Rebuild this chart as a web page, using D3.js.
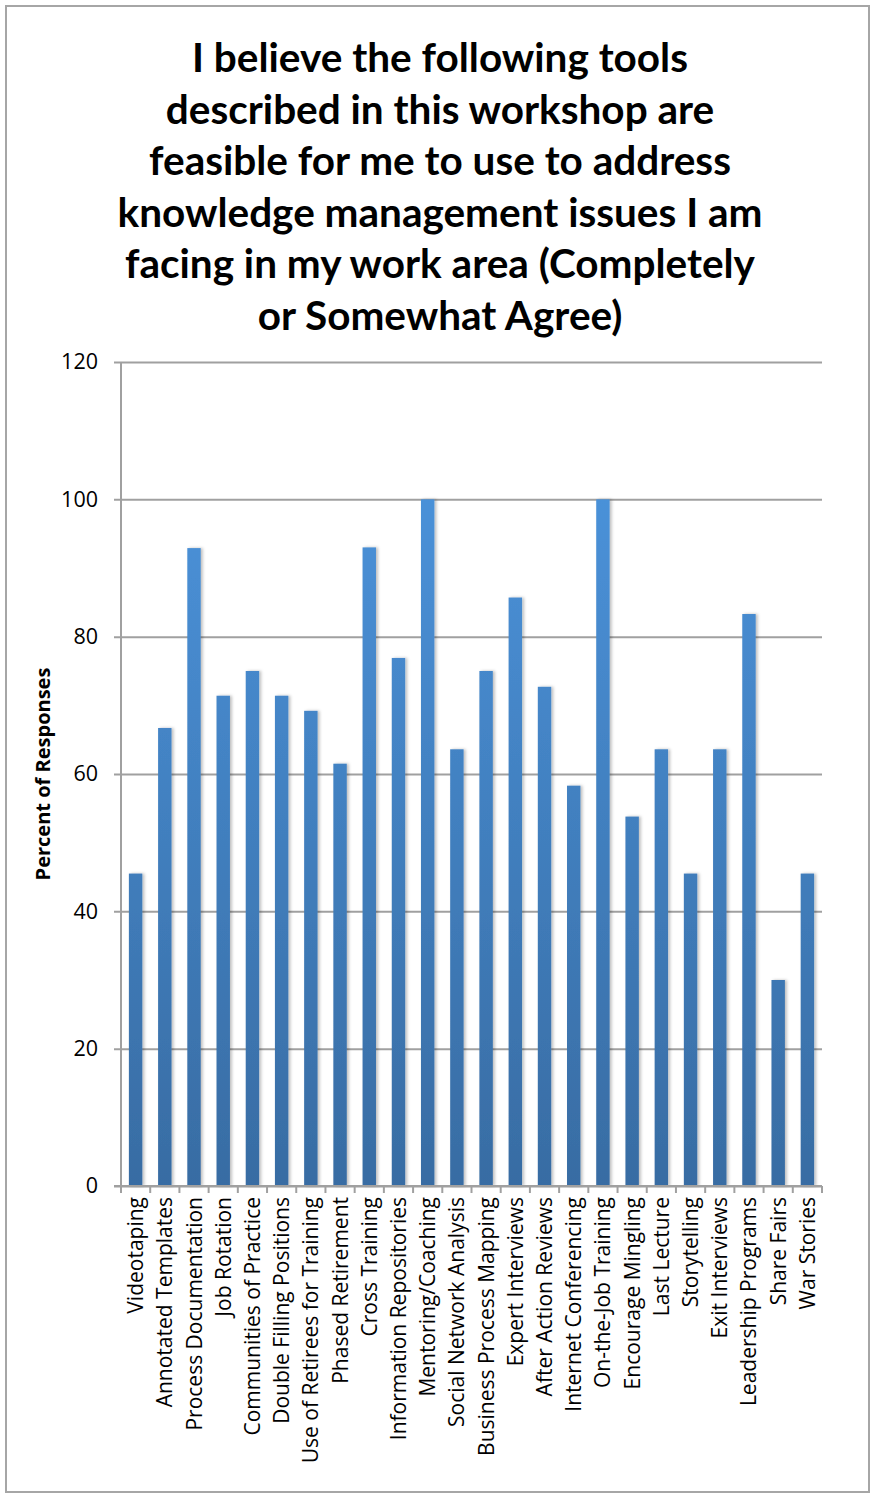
<!DOCTYPE html>
<html><head><meta charset="utf-8">
<script src="https://cdn.jsdelivr.net/npm/d3@7"></script>
<style>body{margin:0;background:#fff}svg{display:block}</style>
</head><body>
<svg id="c" width="872" height="1494"></svg>
<script>
const categories = ["Videotaping","Annotated Templates","Process Documentation","Job Rotation","Communities of Practice","Double Filling Positions","Use of Retirees for Training","Phased Retirement","Cross Training","Information Repositories","Mentoring/Coaching","Social Network Analysis","Business Process Mapping","Expert Interviews","After Action Reviews","Internet Conferencing","On-the-Job Training","Encourage Mingling","Last Lecture","Storytelling","Exit Interviews","Leadership Programs","Share Fairs","War Stories"];
const values = [45.5,66.7,92.9,71.4,75,71.4,69.2,61.5,93,76.9,100,63.6,75,85.7,72.7,58.3,100,53.8,63.6,45.5,63.6,83.3,30,45.5];
const yTicks = [0,20,40,60,80,100,120];
const titleLines = ["I believe the following tools","described in this workshop are","feasible for me to use to address","knowledge management issues I am","facing in my work area (Completely","or Somewhat Agree)"];
const yTitle = "Percent of Responses";

const svg = d3.select("#c");
const L = 121, R = 822, T = 362, B = 1186;
const x = d3.scaleBand().domain(categories).range([L, R]).paddingInner(0.54).paddingOuter(0.27);
const y = d3.scaleLinear().domain([0,120]).range([B, T]);

svg.append("rect").attr("x",6).attr("y",6).attr("width",863).attr("height",1486)
  .attr("fill","#fff").attr("stroke","#a6a6a6").attr("stroke-width",2);

const defs = svg.append("defs");
const g = defs.append("linearGradient").attr("id","bg").attr("gradientUnits","userSpaceOnUse")
  .attr("x1",0).attr("x2",0).attr("y1",y(100)).attr("y2",B);
g.append("stop").attr("offset",0).attr("stop-color","#4a91d8");
g.append("stop").attr("offset",1).attr("stop-color","#386ca3");
const f = defs.append("filter").attr("id","sh").attr("x","-50%").attr("y","-5%").attr("width","200%").attr("height","110%");
f.append("feDropShadow").attr("dx",2).attr("dy",0).attr("stdDeviation",1.5).attr("flood-color","#000").attr("flood-opacity",0.25);

// title
svg.append("text").attr("text-anchor","middle").attr("font-family","Lato, 'Open Sans', sans-serif")
  .attr("font-weight","bold").attr("font-size",40.5).attr("fill","#000")
  .selectAll("tspan").data(titleLines).join("tspan")
  .attr("x",440).attr("y",(d,i)=>72 + i*51.5).text(d=>d);

// grid
const yAxis = d3.axisLeft(y).tickValues(yTicks).tickSize(-(R-L)).tickPadding(23);
const ga = svg.append("g").attr("transform",`translate(${L},0)`).call(yAxis);
ga.select(".domain").remove();
ga.selectAll(".tick line").attr("stroke","#a0a0a0").attr("stroke-width",2).attr("x1",-7).attr("x2",R-L);
ga.selectAll(".tick text").attr("font-family","'Open Sans', sans-serif").attr("font-size",21.5).attr("fill","#000");

// bars
svg.append("g").selectAll("rect").data(values).join("rect")
  .attr("x",(d,i)=>x(categories[i])).attr("width",x.bandwidth())
  .attr("y",d=>y(d)).attr("height",d=>B-y(d))
  .attr("fill","url(#bg)").attr("filter","url(#sh)");

// axes lines
svg.append("line").attr("x1",L).attr("x2",L).attr("y1",T).attr("y2",B).attr("stroke","#a0a0a0").attr("stroke-width",2);
svg.append("line").attr("x1",L-7).attr("x2",R).attr("y1",B).attr("y2",B).attr("stroke","#a0a0a0").attr("stroke-width",2);

// x ticks at band boundaries
const bounds = d3.range(categories.length+1).map(i=>L + i*(R-L)/categories.length);
svg.append("g").selectAll("line").data(bounds).join("line")
  .attr("x1",d=>d).attr("x2",d=>d).attr("y1",B).attr("y2",B+7).attr("stroke","#a0a0a0").attr("stroke-width",2);

// x labels
svg.append("g").selectAll("text").data(categories).join("text")
  .attr("transform",d=>`translate(${x(d)+x.bandwidth()/2+7.5},${B+11}) rotate(-90)`)
  .attr("text-anchor","end").attr("font-family","'Open Sans', sans-serif").attr("font-size",21).attr("fill","#000")
  .text(d=>d);

// y title
svg.append("text").attr("transform",`translate(50,${(T+B)/2}) rotate(-90)`).attr("text-anchor","middle")
  .attr("font-family","'Open Sans', sans-serif").attr("font-weight","bold").attr("font-size",20).attr("fill","#000")
  .text(yTitle);
</script>
</body></html>
